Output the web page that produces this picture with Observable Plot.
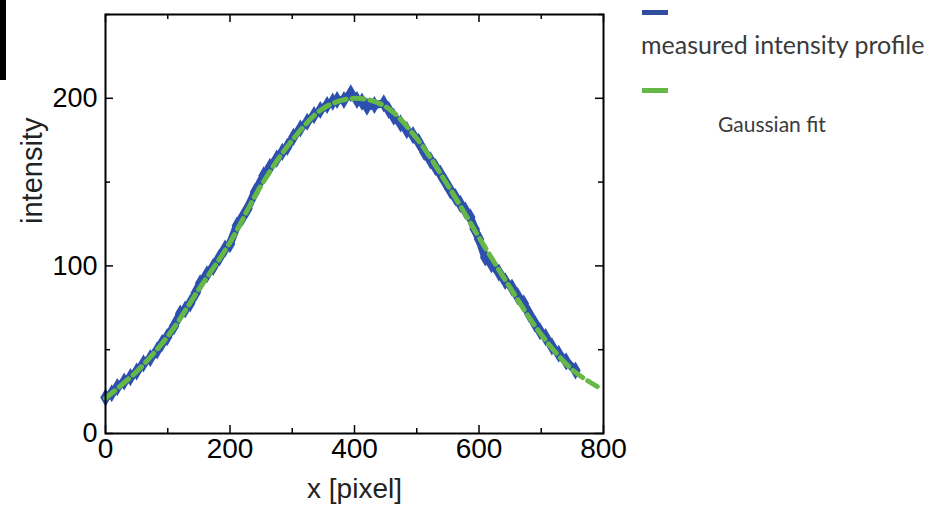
<!DOCTYPE html>
<html>
<head>
<meta charset="utf-8">
<script src="https://cdn.jsdelivr.net/npm/d3@7"></script>
<script src="https://cdn.jsdelivr.net/npm/@observablehq/plot@0.6"></script>
<style>
  html, body { margin: 0; padding: 0; background: #fff; }
  #wrap { position: relative; width: 931px; height: 516px; overflow: hidden; }
  #bar { position: absolute; left: 0; top: 0; width: 6px; height: 80px; background: #000; }
  .leg { position: absolute; font-family: Lato, "Open Sans", sans-serif; color: #3a3a3a; white-space: nowrap; }
  .sw { position: absolute; width: 26px; height: 5px; }
</style>
</head>
<body>
<div id="wrap">
  <div id="chart"></div>
  <div id="bar"></div>
  <div class="sw" style="left:642px; top:10px; background:#2f4f9e;"></div>
  <div class="leg" style="left:641px; top:29px; font-size:25px;">measured intensity profile</div>
  <div class="sw" style="left:642px; top:88px; background:#66b846;"></div>
  <div class="leg" style="left:718px; top:111px; font-size:21px;">Gaussian fit</div>
</div>
<script>
// measured intensity profile
const measX = [0,10,19,30,40,50,61,72,83,91,99,110,120,128,136,145,152,163,173,183,192,200,211,220,228,240,254,264,275,284,292,302,313,324,335,345,356,365,372,383,394,404,412,420,432,447,455,463,474,484,494,503,512,522,530,538,546,554,562,570,578,586,593,600,610,620,632,642,653,662,672,681,690,698,707,717,728,740,755];
const measY = [21.5,24,27.7,31,33.6,37,41.8,45,49.6,54,57.5,64,71.6,74,77.6,84,89.6,95,99.4,105,110.3,113,124,129,134,144,154,159,164,168,171,177,182,186,190,193,196,198,199,199,203,199,198,195,196,197,193,189,185,181,178,174,168,163,159,155,150,145,141,137,133,129,122,116,105,101,96,91,87,82,77.5,71,65.5,61,57.5,52,47.6,43,37.6];

// Gaussian fit
const fitX = [0,50,100,150,200,250,300,350,400,450,500,550,600,650,700,750,790];
const fitY = [21,37,58,86,114,148,175,194,200,195,176,148,117,87,59,38,28];

// axis ticks
const xMajor = [0,200,400,600,800];
const xMinor = [100,300,500,700];
const yMajor = [0,100,200];
const yMinor = [50,150,250];

const meas = measX.map((x, i) => ({x, y: measY[i]}));
const fit = fitX.map((x, i) => ({x, y: fitY[i]}));

const W = 931, H = 516;
const mL = 105, mR = 328, mT = 14, mB = 83;
const pw = W - mL - mR, ph = H - mT - mB;
const blue = "#2d4fae", green = "#66b846";
const tickFont = "Liberation Sans, Arial, Helvetica, sans-serif";

const chart = Plot.plot({
  width: W, height: H,
  marginLeft: mL, marginRight: mR, marginTop: mT, marginBottom: mB,
  style: {fontFamily: tickFont, color: "#000", background: "transparent"},
  x: {domain: [0, 800], axis: null},
  y: {domain: [0, 250], axis: null},
  marks: [
    Plot.line(meas, {x: "x", y: "y", stroke: blue, strokeWidth: 8, strokeLinejoin: "round"}),
    Plot.dot(meas, {x: "x", y: "y", symbol: "diamond", r: 5.5, fill: blue, stroke: "none"}),
    Plot.line(fit, {x: "x", y: "y", stroke: green, strokeWidth: 5, strokeDasharray: "12,6", curve: "catmull-rom"}),
    // inward ticks
    Plot.tickX(xMajor, {x: d => d, insetTop: ph - 8, stroke: "#000", strokeWidth: 1.5}),
    Plot.tickX(xMinor, {x: d => d, insetTop: ph - 5, stroke: "#000", strokeWidth: 1.5}),
    Plot.tickX(xMajor, {x: d => d, insetBottom: ph - 8, stroke: "#000", strokeWidth: 1.5}),
    Plot.tickX(xMinor, {x: d => d, insetBottom: ph - 5, stroke: "#000", strokeWidth: 1.5}),
    Plot.tickY(yMajor, {y: d => d, insetRight: pw - 8, stroke: "#000", strokeWidth: 1.5}),
    Plot.tickY(yMinor, {y: d => d, insetRight: pw - 5, stroke: "#000", strokeWidth: 1.5}),
    Plot.tickY(yMajor, {y: d => d, insetLeft: pw - 8, stroke: "#000", strokeWidth: 1.5}),
    Plot.tickY(yMinor, {y: d => d, insetLeft: pw - 5, stroke: "#000", strokeWidth: 1.5}),
    Plot.frame({stroke: "#000", strokeWidth: 2}),
    Plot.axisX({ticks: xMajor, tickSize: 0, tickPadding: 5, fontSize: 28, label: null, tickFormat: d => String(d)}),
    Plot.axisY({ticks: yMajor, tickSize: 0, tickPadding: 8, fontSize: 27, label: null, tickFormat: d => String(d)}),
    Plot.text(["x [pixel]"], {frameAnchor: "bottom", dy: 64, fontSize: 28, fill: "#222"}),
    Plot.text(["intensity"], {frameAnchor: "left", dx: -73, rotate: -90, fontSize: 29, fill: "#222"})
  ]
});
document.getElementById("chart").appendChild(chart);
</script>
</body>
</html>
